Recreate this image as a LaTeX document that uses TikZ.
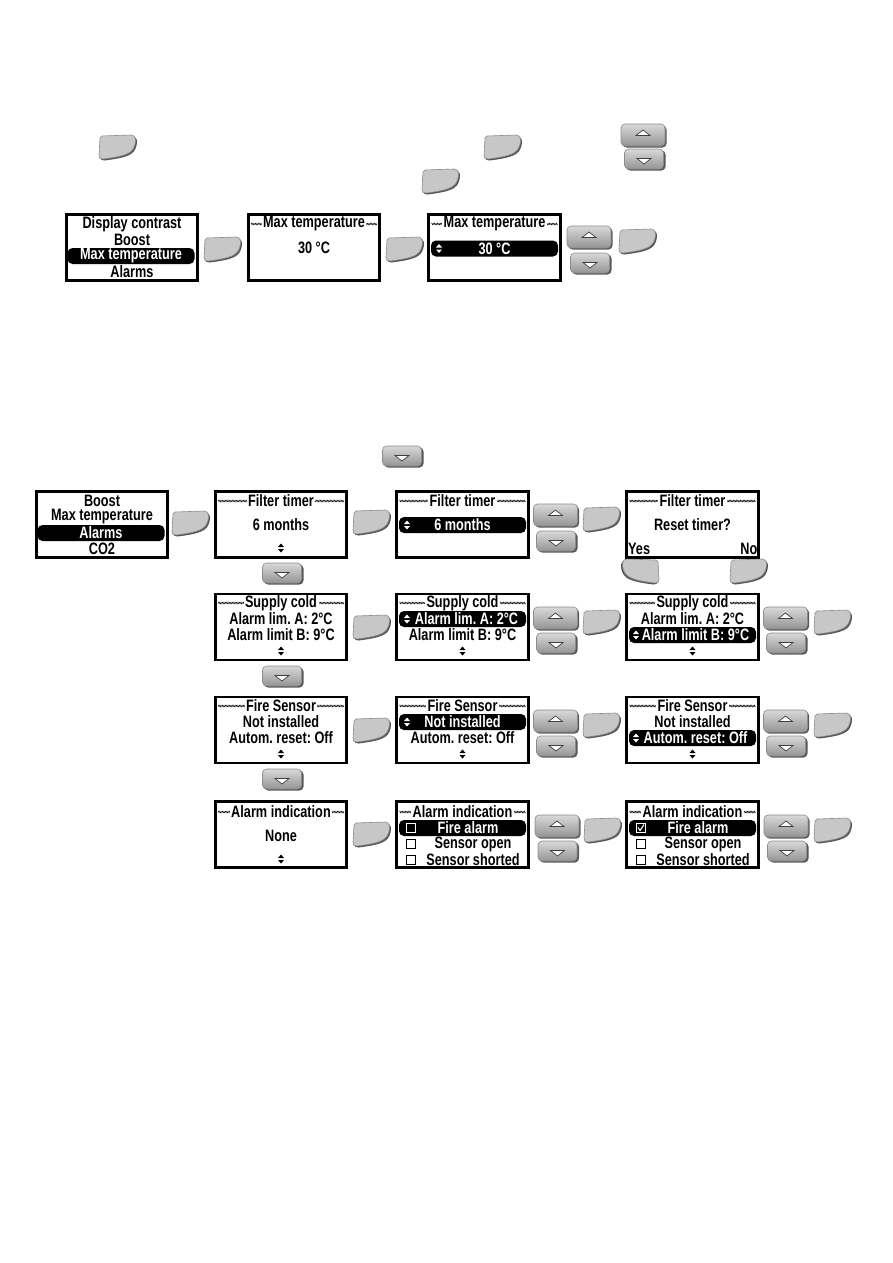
\documentclass[tikz,border=0pt]{standalone}
\usepackage{fontspec}
\setmainfont{Liberation Sans}[FakeStretch=0.77]
\usetikzlibrary{decorations.pathmorphing}
\newcommand\lcdfnt{\fontsize{16.5}{16}\bfseries\frenchspacing\selectfont}
\tikzset{
  lcd/.style={draw, line width=2.6pt, minimum width=131.5pt, minimum height=66pt, inner sep=0pt},
  txt/.style={inner sep=0pt, font=\lcdfnt},
  selbar/.style={fill=black, text=white, rounded corners=5pt, minimum width=127pt, minimum height=16pt, inner sep=0pt, font=\lcdfnt},
  pics/hdr/.style={code={
    \draw[decorate, decoration={zigzag, segment length=1.4pt, amplitude=0.9pt}, line width=0.35pt] (-63,0) -- (63,0);
    \node[fill=white, inner xsep=1.5pt, inner ysep=0pt, font=\lcdfnt] (-t) at (0,0) {#1};
  }},
  pics/okkey/.style={code={
    \fill[black!65] (-13.5,-9.5) -- (15.5,-10.5) .. controls (20.5,-10.5) and (20.5,-4.5) .. (19.5,-1.5) .. controls (17.5,7.5) and (11.5,10.5) .. (-12.5,13.5) .. controls (-15.5,14) and (-16.5,12.5) .. (-16.5,9.5) -- (-15.5,-7.5) -- cycle;
    \filldraw[fill=black!22, draw=black!45, line width=0.6pt] (-15,-11) -- (14,-12) .. controls (19,-12) and (19,-6) .. (18,-3) .. controls (16,6) and (10,9) .. (-14,12) .. controls (-17,12.5) and (-18,11) .. (-18,8) -- (-17,-9) -- cycle;
  }},
  pics/upkey/.style={code={
    \fill[black!65, rounded corners=4pt] (-20.5,-9.5) rectangle (23.5,12.5);
    \shade[top color=black!15, bottom color=black!42, draw=black!45, line width=0.6pt, rounded corners=4pt] (-22,-11) rectangle (22,11);
    \filldraw[fill=white, draw=black!75, line width=0.7pt] (-7,0.5) -- (7,0.5) -- (0,-5) -- cycle;
  }},
  pics/dnkey/.style={code={
    \fill[black!65, rounded corners=4pt] (-18,-8.5) rectangle (21.5,11.5);
    \shade[top color=black!15, bottom color=black!42, draw=black!45, line width=0.6pt, rounded corners=4pt] (-19.5,-10) rectangle (19.5,10);
    \filldraw[fill=white, draw=black!75, line width=0.7pt] (-7,-0.5) -- (7,-0.5) -- (0,5) -- cycle;
  }},
  pics/updn/.style={code={
    \fill (-3,-1) -- (3,-1) -- (0,-4.5) -- cycle;
    \fill (-3,1) -- (3,1) -- (0,4.5) -- cycle;
  }},
  pics/cbox/.style={code={
    \draw[line width=0.8pt] (-4.5,-4.5) rectangle (4.5,4.5);
  }},
  pics/cboxon/.style={code={
    \draw[line width=0.8pt] (-4.5,-4.5) rectangle (4.5,4.5);
    \draw[line width=1.1pt] (-3,-0.5) -- (-1,2.5) -- (3,-3.5);
  }}
}
\begin{document}
\begin{tikzpicture}[x=1pt, y=-1pt]
\useasboundingbox[fill=white] (0,0) rectangle (893,1263);

% keys in the text
\pic (k1) at (117,147) {okkey};
\pic (k2) at (502,147) {okkey};
\pic (k3) at (643,135) {upkey};
\pic (k4) at (644,159) {dnkey};
\pic (k5) at (440,181) {okkey};

% max temperature
\node[lcd] (scrA) at (132,247.5) {};
\node[txt] (a1) at (132,224) {Display contrast};
\node[txt] (a2) at (132,240) {Boost};
\node[selbar] (a3) at (131,256) {Max temperature};
\node[txt] (a4) at (132,271.5) {Alarms};
\pic (kA) at (222,249) {okkey};

\node[lcd] (scrB) at (314,247.5) {};
\pic (hB) at (314,224) {hdr=Max temperature};
\node[txt] (b1) at (314,248) {30 °C};
\pic (kB) at (404,249) {okkey};

\node[lcd] (scrC) at (494.5,247.5) {};
\pic (hC) at (494.5,224) {hdr=Max temperature};
\node[selbar] (c1) at (494.5,248.5) {30 °C};
\pic[white] at (439,248.5) {updn};
\pic (kC1) at (589,237) {upkey};
\pic (kC2) at (590,263) {dnkey};
\pic (kC3) at (637,241) {okkey};

% alarms
\pic (k6) at (402,456) {dnkey};

\node[lcd] (scrD) at (102,524.5) {};
\node[txt] (d1) at (102,501) {Boost};
\node[txt] (d2) at (102,517) {Max temperature};
\node[selbar] (d3) at (101,533) {Alarms};
\node[txt] (d4) at (102,549) {CO2};
\pic (kD) at (190,523) {okkey};

\node[lcd] (scrE) at (281,524.5) {};
\pic (hE) at (281,501) {hdr=Filter timer};
\node[txt] (e1) at (281,525) {6 months};
\pic at (281,548) {updn};
\pic (kE1) at (282,573) {dnkey};
\pic (kE2) at (371,522) {okkey};

\node[lcd] (scrF) at (462.5,524.5) {};
\pic (hF) at (462.5,501) {hdr=Filter timer};
\node[selbar] (f1) at (462.5,525) {6 months};
\pic[white] at (407,525) {updn};
\pic (kF1) at (555.5,515) {upkey};
\pic (kF2) at (556,541) {dnkey};
\pic (kF3) at (601,519) {okkey};

\node[lcd] (scrG) at (692.5,524.5) {};
\pic (hG) at (692.5,501) {hdr=Filter timer};
\node[txt] (g1) at (692.5,525) {Reset timer?};
\node[txt, anchor=west] (g2) at (628,549) {Yes};
\node[txt, anchor=east] (g3) at (757.5,549) {No};
\pic[xscale=-1] (kG1) at (641,571) {okkey};
\pic (kG2) at (748,571) {okkey};

% supply cold
\node[lcd] (scrH) at (281,627) {};
\pic (hH) at (281,603) {hdr=Supply cold};
\node[txt] (h1) at (281,619) {Alarm lim. A: 2°C};
\node[txt] (h2) at (281,635) {Alarm limit B: 9°C};
\pic at (281,651) {updn};
\pic (kH1) at (282,676) {dnkey};
\pic (kH2) at (371,627) {okkey};

\node[lcd] (scrI) at (462.5,627) {};
\pic (hI) at (462.5,603) {hdr=Supply cold};
\node[selbar] (i1) at (462.5,619) {\hspace*{8pt}Alarm lim. A: 2°C};
\pic[white] at (407,619) {updn};
\node[txt] (i2) at (462.5,635) {Alarm limit B: 9°C};
\pic at (462.5,651) {updn};
\pic (kI1) at (555.5,618) {upkey};
\pic (kI2) at (556,643) {dnkey};
\pic (kI3) at (601,622) {okkey};

\node[lcd] (scrJ) at (692.5,627) {};
\pic (hJ) at (692.5,603) {hdr=Supply cold};
\node[txt] (j1) at (692.5,619) {Alarm lim. A: 2°C};
\node[selbar] (j2) at (692.5,635) {\hspace*{6pt}Alarm limit B: 9°C};
\pic[white] at (636,635) {updn};
\pic at (692.5,651) {updn};
\pic (kJ1) at (785.5,618) {upkey};
\pic (kJ2) at (786,643) {dnkey};
\pic (kJ3) at (832,622) {okkey};

% fire sensor
\node[lcd] (scrK) at (281,730) {};
\pic (hK) at (281,706) {hdr=Fire Sensor};
\node[txt] (k1t) at (281,722) {Not installed};
\node[txt] (k2t) at (281,738) {Autom. reset: Off};
\pic at (281,754) {updn};
\pic (kK1) at (282,779) {dnkey};
\pic (kK2) at (371,730) {okkey};

\node[lcd] (scrL) at (462.5,730) {};
\pic (hL) at (462.5,706) {hdr=Fire Sensor};
\node[selbar] (l1) at (462.5,722) {Not installed};
\pic[white] at (407,722) {updn};
\node[txt] (l2) at (462.5,738) {Autom. reset: Off};
\pic at (462.5,754) {updn};
\pic (kL1) at (555.5,721) {upkey};
\pic (kL2) at (556,746) {dnkey};
\pic (kL3) at (601,725) {okkey};

\node[lcd] (scrM) at (692.5,730) {};
\pic (hM) at (692.5,706) {hdr=Fire Sensor};
\node[txt] (m1) at (692.5,722) {Not installed};
\node[selbar] (m2) at (692.5,738) {\hspace*{6pt}Autom. reset: Off};
\pic[white] at (636,738) {updn};
\pic at (692.5,754) {updn};
\pic (kM1) at (785.5,721) {upkey};
\pic (kM2) at (786,746) {dnkey};
\pic (kM3) at (832,725) {okkey};

% alarm indication
\node[lcd] (scrN) at (281,834.5) {};
\pic (hN) at (281,812) {hdr=Alarm indication};
\node[txt] (n1) at (281,836) {None};
\pic at (281,859) {updn};
\pic (kN) at (371,834) {okkey};

\node[lcd] (scrO) at (462.5,834.5) {};
\pic (hO) at (462.5,812) {hdr=Alarm indication};
\node[selbar] (o1) at (462.5,828) {};
\pic[white] at (411,828) {cbox};
\node[txt, text=white] (o1t) at (468,828) {Fire alarm};
\pic at (411,844) {cbox};
\node[txt] (o2) at (473,844) {Sensor open};
\pic at (411,860) {cbox};
\node[txt] (o3) at (473,860) {Sensor shorted};
\pic (kO1) at (557,826) {upkey};
\pic (kO2) at (557.5,851) {dnkey};
\pic (kO3) at (602,830) {okkey};

\node[lcd] (scrP) at (692.5,834.5) {};
\pic (hP) at (692.5,812) {hdr=Alarm indication};
\node[selbar] (p1) at (692.5,828) {};
\pic[white] at (641,828) {cboxon};
\node[txt, text=white] (p1t) at (698,828) {Fire alarm};
\pic at (641,844) {cbox};
\node[txt] (p2) at (703,844) {Sensor open};
\pic at (641,860) {cbox};
\node[txt] (p3) at (703,860) {Sensor shorted};
\pic (kP1) at (786,826) {upkey};
\pic (kP2) at (787,851) {dnkey};
\pic (kP3) at (832,830) {okkey};
\end{tikzpicture}
\end{document}
